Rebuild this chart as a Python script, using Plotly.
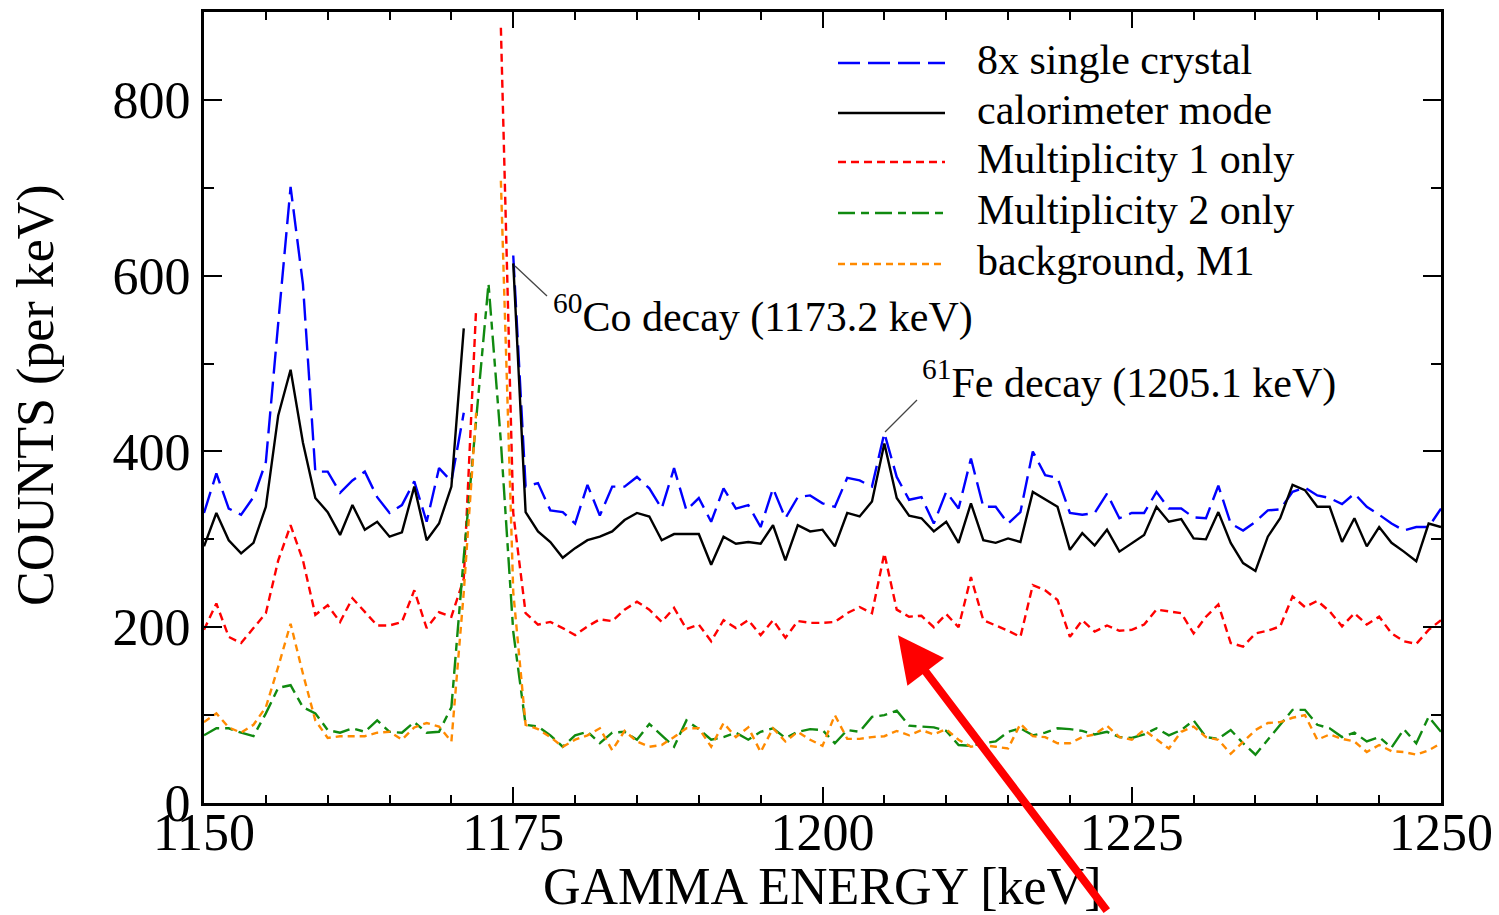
import plotly.graph_objects as go

energy = list(range(1150, 1251))

single8x = [330, 375, 335, 328, 348, 388, 546, 701, 590, 377, 377, 353, 367, 377, 348, 330, 339, 366, 320, 381, 366, 444,
            None, None, None, 623, 360, 364, 333, 331, 318, 362, 327, 360, 360, 371, 358, 335, 381, 333, 347, 320, 358,
            335, 339, 314, 358, 324, 348, 350, 341, 337, 370, 367, 360, 421, 371, 345, 348, 318, 354, 335, 392, 337, 337,
            318, 331, 400, 373, 370, 330, 328, 330, 352, 324, 330, 330, 354, 335, 335, 325, 324, 361, 318, 310, 320, 333,
            334, 354, 359, 350, 347, 340, 352, 337, 328, 318, 310, 314, 314, 335]
calorimeter = [292, 330, 299, 284, 296, 337, 441, 493, 410, 347, 331, 305, 339, 311, 320, 303, 308, 360, 299, 318, 360, 540,
               None, None, None, 614, 331, 309, 297, 279, 290, 299, 303, 309, 322, 330, 326, 299, 306, 306, 306, 271, 303,
               295, 297, 295, 316, 276, 316, 309, 311, 292, 330, 326, 343, 409, 347, 327, 324, 309, 320, 296, 341, 299, 296,
               301, 297, 354, 345, 337, 288, 307, 293, 311, 286, 295, 305, 337, 320, 323, 301, 300, 331, 296, 273, 264, 303,
               324, 362, 356, 337, 337, 297, 324, 292, 314, 296, 286, 275, 318, 314]
mult1 = [197, 227, 189, 182, 199, 216, 276, 316, 276, 214, 225, 206, 233, 217, 202, 202, 206, 242, 199, 217, 212, 255,
         563, None, 882, 330, 216, 203, 206, 199, 191, 201, 209, 207, 220, 229, 220, 206, 222, 198, 203, 184, 208,
         199, 208, 191, 208, 188, 207, 205, 205, 206, 216, 223, 216, 284, 220, 212, 213, 200, 215, 200, 257, 208, 202,
         196, 189, 248, 242, 231, 189, 208, 195, 202, 196, 197, 203, 220, 218, 216, 193, 212, 226, 182, 178, 193, 196,
         201, 235, 223, 230, 218, 201, 216, 203, 212, 193, 184, 181, 197, 208]
mult2 = [77, 85, 85, 80, 76, 102, 131, 134, 109, 102, 83, 80, 85, 81, 94, 81, 80, 92, 80, 81, 109, 280,
         436, 591, 411, 195, 89, 87, 77, 64, 77, 81, 68, 80, 81, 72, 90, 77, 64, 94, 84, 72, 75,
         80, 72, 81, 85, 74, 81, 84, 83, 68, 83, 81, 98, 100, 105, 88, 87, 86, 82, 66, 65, 68, 70,
         81, 85, 77, 80, 85, 84, 82, 78, 81, 75, 74, 78, 85, 77, 83, 94, 75, 73, 83, 68, 55, 72,
         89, 106, 106, 89, 85, 75, 80, 70, 75, 63, 84, 68, 98, 81]
background = [92, 102, 86, 80, 89, 109, 155, 204, 147, 94, 74, 76, 76, 76, 80, 81, 72, 86, 91, 87, 70, 240,
              444, None, 708, 240, 89, 84, 75, 64, 72, 77, 85, 60, 82, 70, 64, 66, 75, 85, 85, 64, 91,
              75, 86, 58, 85, 70, 81, 72, 65, 100, 73, 73, 75, 76, 82, 77, 83, 78, 84, 72, 64, 66, 64,
              62, 90, 76, 75, 68, 68, 75, 78, 88, 75, 72, 83, 72, 62, 81, 87, 75, 72, 56, 70, 83, 91,
              92, 97, 100, 72, 78, 73, 70, 58, 66, 59, 58, 55, 60, 68]

series_names = ["8x single crystal", "calorimeter mode", "Multiplicity 1 only",
                "Multiplicity 2 only", "background, M1"]
series_data = [single8x, calorimeter, mult1, mult2, background]
colors = ["#0000ff", "#000000", "#ff0000", "#108a10", "#ff8a00"]
dashes = ["22px,8px", "solid", "8px,5px", "17px,6px,8px,6px", "7px,5px"]

FONT = "Liberation Serif, Times New Roman, serif"
W, H = 1499, 915
L, R, T, B = 204, 1441, 12, 803


def px(xp):
    return (xp - L) / (R - L)


def py(yp):
    return (B - yp) / (B - T)


fig = go.Figure()
for name, ys, c, d in zip(series_names, series_data, colors, dashes):
    fig.add_trace(go.Scatter(x=energy, y=ys, mode="lines", name=name,
                             line=dict(color=c, width=2.4, dash=d),
                             connectgaps=False, showlegend=False))

shapes = []
annotations = []
# manual legend
leg_y = [63, 113, 162, 213, 264]
for name, c, d, yy in zip(series_names, colors, dashes, leg_y):
    shapes.append(dict(type="line", xref="paper", yref="paper",
                       x0=px(838), x1=px(945), y0=py(yy), y1=py(yy),
                       line=dict(color=c, width=2.4, dash=d)))
    annotations.append(dict(xref="paper", yref="paper", x=px(975), y=py(yy - 3),
                            text=name, showarrow=False, xanchor="left", yanchor="middle",
                            font=dict(family=FONT, size=42, color="black")))

# peak labels
annotations.append(dict(xref="paper", yref="paper", x=px(551), y=py(314),
                        text="<sup>60</sup>Co decay (1173.2 keV)", showarrow=False,
                        xanchor="left", yanchor="middle",
                        font=dict(family=FONT, size=42, color="black")))
annotations.append(dict(xref="paper", yref="paper", x=px(920), y=py(380),
                        text="<sup>61</sup>Fe decay (1205.1 keV)", showarrow=False,
                        xanchor="left", yanchor="middle",
                        font=dict(family=FONT, size=42, color="black")))
shapes.append(dict(type="line", xref="paper", yref="paper",
                   x0=px(515), y0=py(266), x1=px(547), y1=py(296),
                   line=dict(color="#444444", width=1.3)))
shapes.append(dict(type="line", xref="paper", yref="paper",
                   x0=px(885), y0=py(432), x1=px(917), y1=py(400),
                   line=dict(color="#444444", width=1.3)))

# axis titles
annotations.append(dict(xref="paper", yref="paper", x=px(822), y=py(886),
                        text="GAMMA ENERGY [keV]", showarrow=False,
                        xanchor="center", yanchor="middle",
                        font=dict(family=FONT, size=52, color="black")))
annotations.append(dict(xref="paper", yref="paper", x=px(36), y=py(395),
                        text="COUNTS (per keV)", showarrow=False, textangle=-90,
                        xanchor="center", yanchor="middle",
                        font=dict(family=FONT, size=52, color="black")))

# red arrow
annotations.append(dict(xref="x", yref="y", x=1206.1, y=191, ax=210, ay=277,
                        axref="pixel", ayref="pixel", text="", showarrow=True,
                        arrowhead=2, arrowsize=1.15, arrowwidth=8, arrowcolor="#ff0000"))

axis_common = dict(showline=True, linewidth=3.2, linecolor="black", mirror="allticks",
                   ticks="inside", tickwidth=2.2, tickcolor="black", showgrid=False,
                   zeroline=False, automargin=False,
                   tickfont=dict(family=FONT, size=52, color="black"))

fig.update_layout(
    width=W, height=H,
    margin=dict(l=L, r=W - R, t=T, b=H - B, autoexpand=False),
    plot_bgcolor="white", paper_bgcolor="white",
    shapes=shapes, annotations=annotations,
    xaxis=dict(range=[1150, 1250], tickmode="array", tickvals=[1150, 1175, 1200, 1225, 1250],
               ticklen=16, ticklabelstandoff=-19,
               minor=dict(dtick=5, ticks="inside", ticklen=8, tickwidth=2.2, tickcolor="black", showgrid=False),
               **axis_common),
    yaxis=dict(range=[0, 900], tickmode="array", tickvals=[0, 200, 400, 600, 800],
               ticklen=18,
               minor=dict(dtick=100, ticks="inside", ticklen=10, tickwidth=2.2, tickcolor="black", showgrid=False),
               **axis_common),
)

fig.write_html("out.html")
